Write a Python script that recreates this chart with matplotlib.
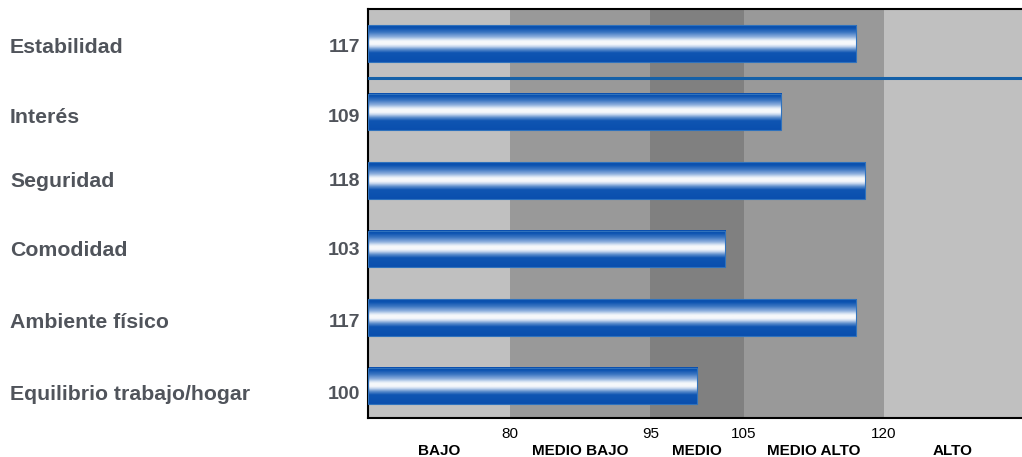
import numpy as np
import matplotlib.pyplot as plt
from matplotlib.colors import LinearSegmentedColormap
from matplotlib.transforms import blended_transform_factory

plt.rcParams['font.family'] = ['Liberation Sans', 'DejaVu Sans']

# Scale scores per dimension
categories = ["Estabilidad", "Interés", "Seguridad", "Comodidad",
              "Ambiente físico", "Equilibrio trabajo/hogar"]
scores = [117, 109, 118, 103, 117, 100]

# Interpretation bands on the score scale
band_edges = [64.8, 80, 95, 105, 120, 134.75]
band_names = ["BAJO", "MEDIO BAJO", "MEDIO", "MEDIO ALTO", "ALTO"]
band_colors = ["#c0c0c0", "#999999", "#808080", "#999999", "#c0c0c0"]
tick_values = [80, 95, 105, 120]

# text baselines of the row labels (pixels from the top of the figure)
label_baseline_px = [53, 123, 187, 256, 328, 400]

W, H = 1022, 457
label_color = "#50545b"
bar_h = 0.53

# vertical gradient for the "tube" look of the bars (top -> bottom)
tube = LinearSegmentedColormap.from_list("tube", [
    (0.00, "#0a4fae"), (0.08, "#0b52b0"), (0.20, "#3f78c3"),
    (0.32, "#8fb0de"), (0.40, "#dde8f5"), (0.44, "#f6f8fb"),
    (0.52, "#f6f8fb"), (0.58, "#c5d6ee"), (0.66, "#5d8dcc"),
    (0.75, "#0f55b2"), (1.00, "#0a4fae")])
grad = np.linspace(0, 1, 256).reshape(-1, 1)

fig = plt.figure(figsize=(W / 100, H / 100), dpi=100)
ax = fig.add_axes([0.360, 0.0853, 0.640, 0.8950])

x0, x1 = band_edges[0], band_edges[-1]
ylo, yhi = 5.467, -0.504

for i in range(len(band_names)):
    ax.axvspan(band_edges[i], band_edges[i + 1], color=band_colors[i], lw=0, zorder=0)

for i, (cat, val) in enumerate(zip(categories, scores)):
    top, bot = i - bar_h / 2, i + bar_h / 2
    ax.imshow(grad, cmap=tube, aspect='auto', extent=[x0, val, bot, top],
              interpolation='bilinear', zorder=2)
    ax.add_patch(plt.Rectangle((x0, top), val - x0, bar_h, fill=False,
                               ec="#2f72bd", lw=0.8, zorder=3))
    yb = 1 - label_baseline_px[i] / H
    fig.text(10 / W, yb, cat, ha='left', va='baseline', fontsize=15.3,
             fontweight='bold', color=label_color)
    fig.text(360 / W, yb + 1 / H, str(val), ha='right', va='baseline', fontsize=14,
             fontweight='bold', color=label_color)

# separator under the first dimension
ax.axhline(0.5, color="#1460a8", lw=2.2, zorder=4)

ax.set_xlim(x0, x1)
ax.set_ylim(ylo, yhi)
ax.set_xticks([])
ax.set_yticks([])
for s in ['left', 'top', 'bottom']:
    ax.spines[s].set_color('black')
    ax.spines[s].set_linewidth(1.5)
ax.spines['right'].set_visible(False)

tr = blended_transform_factory(ax.transData, ax.transAxes)
for t in tick_values:
    ax.text(t, -0.038, str(t), transform=tr, ha='center', va='center', fontsize=11)
for i, name in enumerate(band_names):
    mid = (band_edges[i] + band_edges[i + 1]) / 2
    ax.text(mid, -0.081, name, transform=tr, ha='center', va='center',
            fontsize=11, fontweight='bold')

fig.savefig("out.png", dpi=100)
